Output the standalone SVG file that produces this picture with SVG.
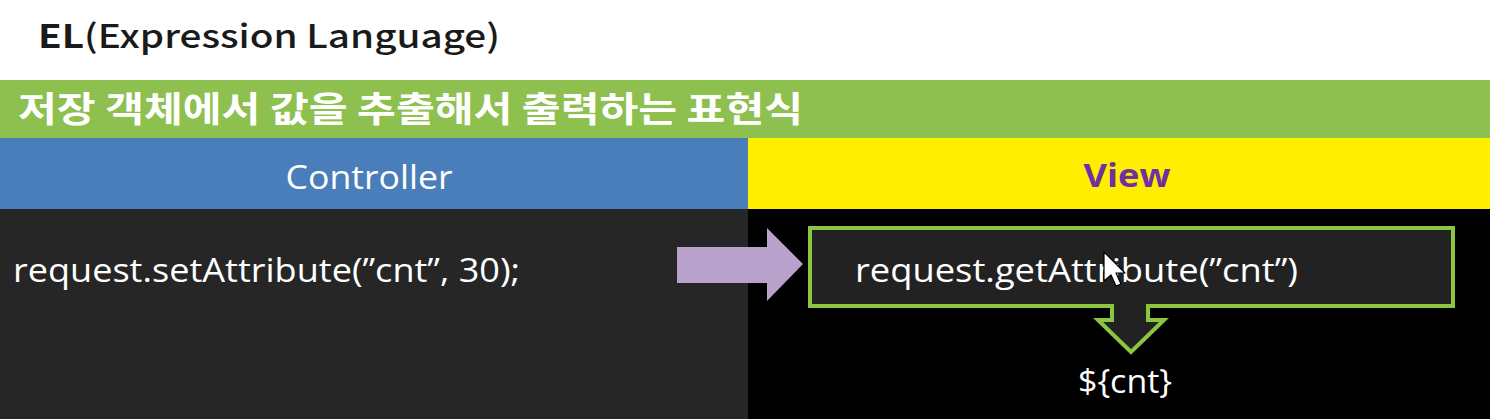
<svg xmlns="http://www.w3.org/2000/svg" width="1490" height="419" viewBox="0 0 1490 419">
  <style>
    .latin { font-family: "Open Sans", "Noto Sans", "DejaVu Sans", sans-serif; }
    .kr { font-family: "Noto Sans CJK KR", "Noto Sans", sans-serif; }
    .w { fill: #ffffff; }
    .code { font-size: 32px; }
    .gstroke { stroke: #8cc63f; stroke-width: 4; }
  </style>
  <rect x="0" y="0" width="1490" height="419" fill="#ffffff"/>

  <g id="title">
    <text x="38" y="48" class="kr" font-size="32" fill="#1a1a1a" textLength="462" lengthAdjust="spacingAndGlyphs"><tspan font-weight="bold">EL</tspan><tspan font-weight="500">(Expression Language)</tspan></text>
  </g>

  <g id="subtitle-bar">
    <rect x="0" y="80" width="1490" height="58" fill="#8dc04f"/>
    <text x="18" y="122" class="kr w" font-size="35" font-weight="bold" textLength="785" lengthAdjust="spacingAndGlyphs">저장 객체에서 값을 추출해서 출력하는 표현식</text>
  </g>

  <g id="controller">
    <rect x="0" y="138" width="748" height="71" fill="#4a7ebb"/>
    <rect x="0" y="209" width="748" height="210" fill="#262626"/>
    <text x="369" y="189" class="latin w" font-size="33" text-anchor="middle" textLength="167" lengthAdjust="spacingAndGlyphs">Controller</text>
  </g>

  <g id="view">
    <rect x="748" y="138" width="742" height="71" fill="#ffee00"/>
    <rect x="748" y="209" width="742" height="210" fill="#000000"/>
    <text x="1127" y="187" class="latin" font-size="33" font-weight="bold" fill="#7030a0" text-anchor="middle" textLength="87" lengthAdjust="spacingAndGlyphs">View</text>
  </g>

  <g id="set-attribute">
    <text x="13" y="282" class="latin w code" textLength="507" lengthAdjust="spacingAndGlyphs">request.setAttribute(”cnt”, 30);</text>
  </g>

  <g id="get-attribute">
    <rect x="810" y="228" width="643" height="78" fill="#222222" class="gstroke"/>
    <text x="855" y="282" class="latin w code" textLength="443" lengthAdjust="spacingAndGlyphs">request.getAttribute(”cnt”)</text>
  </g>

  <g id="el-output">
    <text x="1078" y="393" class="latin w code" textLength="94" lengthAdjust="spacingAndGlyphs">${cnt}</text>
  </g>

  <g id="connectors">
    <polygon points="677,247 767,247 767,228 803,264 767,301 767,283 677,283" fill="#b8a2cc"/>
    <polygon points="1112,306 1112,320 1098,320 1131,352 1164,320 1148,320 1148,306" fill="#222222" class="gstroke" stroke-linejoin="miter"/>
    <rect x="1114" y="303" width="32" height="7" fill="#222222"/>
  </g>

  <g id="cursor">
    <polygon points="1104,252 1104,281 1111,275 1116,286 1121,284 1116,273 1125,273" fill="#ffffff" stroke="#000000" stroke-width="1.2" stroke-linejoin="round"/>
  </g>
</svg>
